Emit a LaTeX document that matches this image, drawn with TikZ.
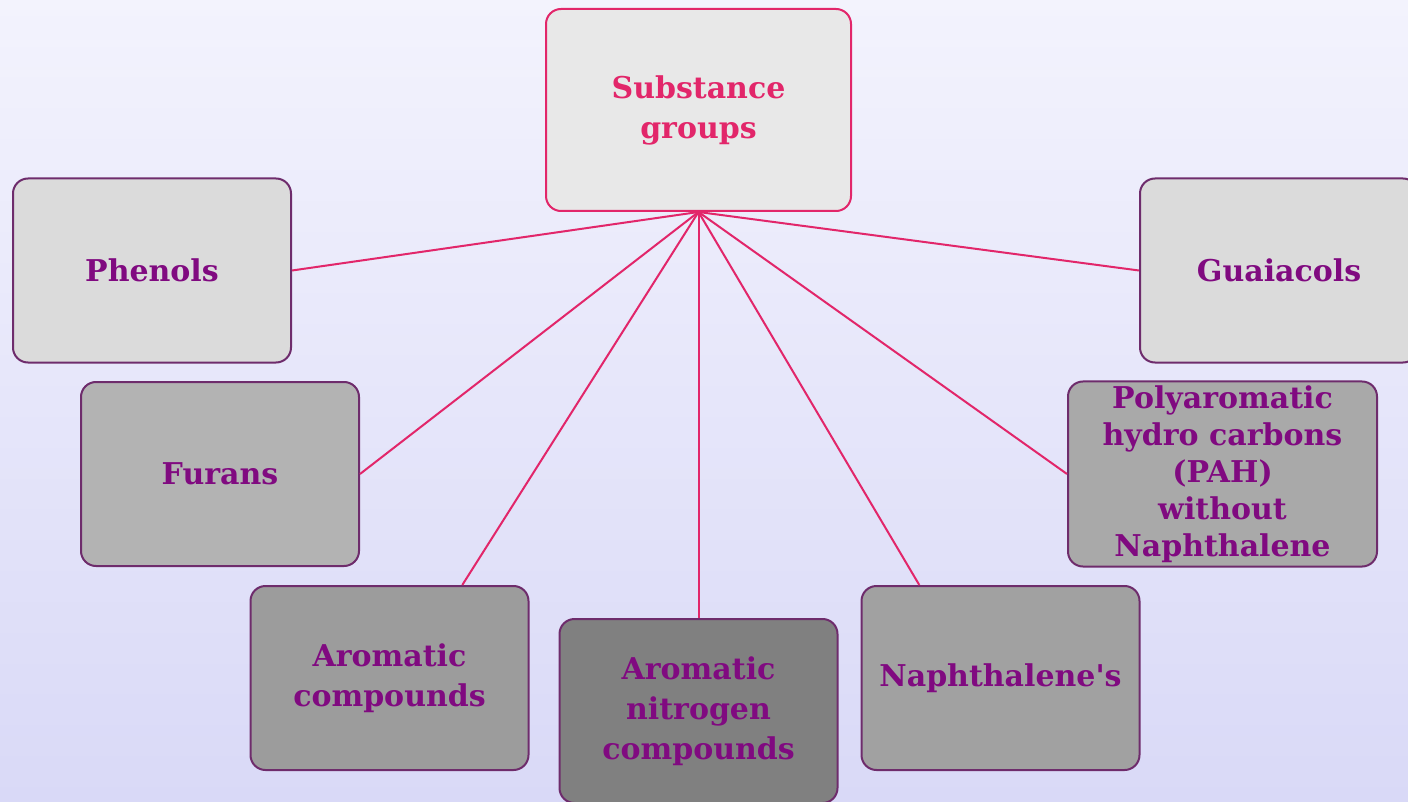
\documentclass[tikz,border=0pt]{standalone}
\usepackage{fontspec}
\setmainfont{DejaVu Serif}[Ligatures=TeXOff]
\usetikzlibrary{calc}
\definecolor{rosered}{HTML}{E2266A}
\definecolor{plum}{HTML}{6E2C6C}
\definecolor{plumtext}{HTML}{800A80}
\definecolor{bgtop}{HTML}{F3F3FD}
\definecolor{bgbot}{HTML}{D9D9F7}
\definecolor{grayA}{HTML}{E8E8E8}
\definecolor{grayB}{HTML}{DBDBDB}
\definecolor{grayC}{HTML}{B3B3B3}
\definecolor{grayD}{HTML}{A9A9A9}
\definecolor{grayE}{HTML}{A1A1A1}
\definecolor{grayF}{HTML}{9C9C9C}
\definecolor{grayG}{HTML}{808080}
\tikzset{
  group/.style={draw=plum, line width=1pt, rounded corners=7.5pt, align=center, inner sep=2pt,
    font=\bfseries\fontsize{15}{20}\selectfont, text=plumtext, minimum width=139pt, minimum height=92pt},
  topgroup/.style={group, draw=rosered, fill=grayA, text=rosered, minimum width=152.5pt, minimum height=101pt},
  link/.style={rosered, line width=1pt},
}

\begin{document}
\begin{tikzpicture}[x=0.5pt,y=-0.5pt]
  % page and background
  \useasboundingbox (0,0) rectangle (1408,802);
  \shade[top color=bgtop, bottom color=bgbot] (0,0) rectangle (1408,802);

  % groups
  \node[topgroup] (sub) at (698.5,110) {Substance\\groups};
  \node[group, fill=grayB] (phen) at (152,270.5) {Phenols};
  \node[group, fill=grayB] (guai) at (1279,270.5) {Guaiacols};
  \node[group, fill=grayC] (fur) at (220,474) {Furans};
  \node[group, fill=grayD, minimum width=154.5pt, font=\bfseries\fontsize{15}{18.5}\selectfont] (pah) at (1222.5,474)
    {Polyaromatic\\hydro carbons\\(PAH)\\without\\Naphthalene};
  \node[group, fill=grayF] (arom) at (389.5,678) {Aromatic\\compounds};
  \node[group, fill=grayG] (nitro) at (698.5,711) {Aromatic\\nitrogen\\compounds};
  \node[group, fill=grayE] (naph) at (1000.5,678) {Naphthalene's};

  % links
  \coordinate (hub) at (sub.south);
  \foreach \t in {phen.east, guai.west, fur.east, pah.west, nitro.north} {
    \draw[link] (hub) -- (\t);
  }
  \draw[link] (hub) -- ($(arom.north west)!0.76!(arom.north east)$);
  \draw[link] (hub) -- ($(naph.north west)!0.21!(naph.north east)$);
\end{tikzpicture}
\end{document}
